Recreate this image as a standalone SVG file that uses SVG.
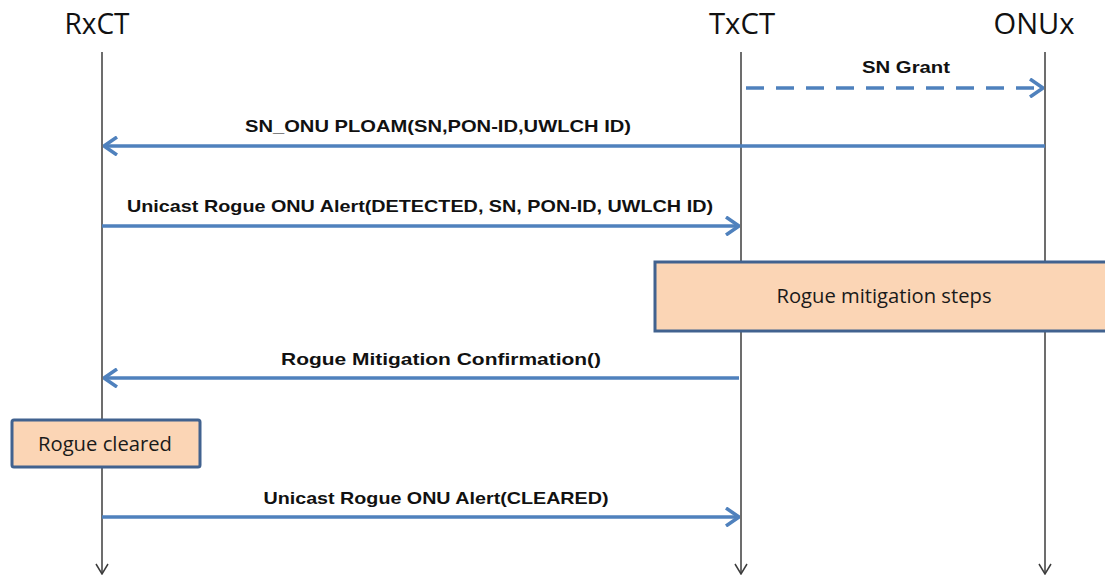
<svg xmlns="http://www.w3.org/2000/svg" width="1105" height="575" viewBox="0 0 1105 575">
  <style>
    .actor { font-family: "Open Sans", "Liberation Sans", sans-serif; font-size: 28.5px; fill: #111; text-anchor: middle; }
    .life { stroke: #3c3c3c; stroke-width: 1.5; fill: none; }
    .msg { stroke: #4f81bd; stroke-width: 3.5; fill: none; }
    .dash { stroke-dasharray: 18 12; }
    .lbl { font-family: "Liberation Sans", Arial, sans-serif; font-weight: bold; font-size: 16.5px; fill: #111; text-anchor: middle; }
    .box { fill: #fbd5b5; stroke: #41628f; stroke-width: 3; }
    .boxtxt { font-family: "Open Sans", "Liberation Sans", sans-serif; font-size: 20px; fill: #1a1a1a; text-anchor: middle; }
  </style>
  <defs>
    <marker id="open" viewBox="0 0 16 20" refX="15" refY="10" markerWidth="16" markerHeight="20" markerUnits="userSpaceOnUse" orient="auto">
      <path d="M2,1 L15,10 L2,19" fill="none" stroke="#4f81bd" stroke-width="3.5"/>
    </marker>
    <marker id="lifeEnd" viewBox="0 0 14 12" refX="7" refY="11" markerWidth="14" markerHeight="12" markerUnits="userSpaceOnUse" orient="0">
      <path d="M1,1 L7,11 L13,1" fill="none" stroke="#3c3c3c" stroke-width="1.5"/>
    </marker>
  </defs>

  <rect width="1105" height="575" fill="#ffffff"/>

  <!-- lifelines -->
  <g id="RxCT">
    <text class="actor" x="97" y="34" textLength="65" lengthAdjust="spacingAndGlyphs">RxCT</text>
    <line class="life" x1="102" y1="52" x2="102" y2="574" marker-end="url(#lifeEnd)"/>
  </g>
  <g id="TxCT">
    <text class="actor" x="742" y="34" textLength="66" lengthAdjust="spacingAndGlyphs">TxCT</text>
    <line class="life" x1="741" y1="52" x2="741" y2="574" marker-end="url(#lifeEnd)"/>
  </g>
  <g id="ONUx">
    <text class="actor" x="1034" y="34" textLength="81" lengthAdjust="spacingAndGlyphs">ONUx</text>
    <line class="life" x1="1045" y1="52" x2="1045" y2="574" marker-end="url(#lifeEnd)"/>
  </g>

  <!-- activity boxes -->
  <g id="mitigation">
    <rect class="box" x="655" y="262" width="460" height="69"/>
    <text class="boxtxt" x="884" y="303" textLength="215" lengthAdjust="spacingAndGlyphs">Rogue mitigation steps</text>
  </g>
  <g id="cleared">
    <rect class="box" x="12" y="420" width="188" height="47" rx="2"/>
    <text class="boxtxt" x="105" y="451" textLength="134" lengthAdjust="spacingAndGlyphs">Rogue cleared</text>
  </g>

  <!-- messages -->
  <g id="connectors">
    <line class="msg dash" x1="746" y1="88" x2="1043" y2="88" marker-end="url(#open)"/>
    <text class="lbl" x="906" y="73" textLength="88" lengthAdjust="spacingAndGlyphs">SN Grant</text>

    <line class="msg" x1="1045" y1="146" x2="104" y2="146" marker-end="url(#open)"/>
    <text class="lbl" x="438" y="132" textLength="386" lengthAdjust="spacingAndGlyphs">SN_ONU PLOAM(SN,PON-ID,UWLCH ID)</text>

    <line class="msg" x1="102" y1="226" x2="739" y2="226" marker-end="url(#open)"/>
    <text class="lbl" x="420" y="212" textLength="586" lengthAdjust="spacingAndGlyphs">Unicast Rogue ONU Alert(DETECTED, SN, PON-ID, UWLCH ID)</text>

    <line class="msg" x1="739" y1="378" x2="104" y2="378" marker-end="url(#open)"/>
    <text class="lbl" x="441" y="365" textLength="320" lengthAdjust="spacingAndGlyphs">Rogue Mitigation Confirmation()</text>

    <line class="msg" x1="102" y1="517" x2="739" y2="517" marker-end="url(#open)"/>
    <text class="lbl" x="436" y="504" textLength="345" lengthAdjust="spacingAndGlyphs">Unicast Rogue ONU Alert(CLEARED)</text>
  </g>
</svg>
